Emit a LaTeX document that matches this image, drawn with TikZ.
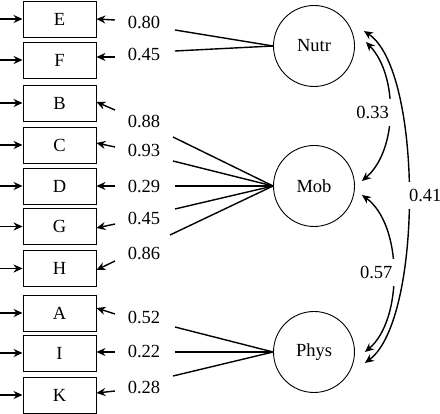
\documentclass[tikz,border=0pt]{standalone}
\usepackage{fontspec}
\setmainfont{Liberation Serif}
\newfontfamily\lserif{Liberation Serif}
\usetikzlibrary{arrows.meta,calc}
\begin{document}
\begin{tikzpicture}[x=1pt,y=-1pt,
  txt/.style={font=\lserif\fontsize{18.5}{20}\selectfont},
  obs/.style={txt,draw,line width=0.9pt,minimum width=73pt,minimum height=36pt,inner sep=0pt},
  lat/.style={txt,draw,circle,line width=0.9pt,minimum size=81pt,inner sep=0pt},
  lbl/.style={txt,inner sep=1pt},
  arr/.style={-{Stealth[length=9pt,width=8pt]},line width=1.4pt},
  load/.style={line width=1.4pt},
  cov/.style={{Stealth[length=9pt,width=8pt]}-{Stealth[length=9pt,width=8pt]},line width=1.4pt},
  cl/.style={txt,fill=white,inner xsep=4pt,inner ysep=7pt}
]
\useasboundingbox (0,0) rectangle (440,414);
% observed boxes
\foreach \n/\y in {E/19,F/60,B/103,C/145,D/186,G/226.5,H/268.5,A/313,I/353,K/395}{
  \node[obs] (\n) at (59.5,\y) {\n};
  \coordinate (\n L) at (0,\y);
  \draw[arr] (\n L) -- (\n.west);
}
% error arrows on the right of boxes
\foreach \n/\s/\t in {E/20/0,F/57/3,B/110/1,C/147/2,D/186/0,G/224/-1.5,H/261/-1.5,A/314/5,I/352/1,K/391/2}{
  \coordinate (\n R) at (115,\s);
  \draw[arr] (\n R) -- ([yshift=\t pt]\n.east);
}
% latent variables
\node[lat] (Nutr) at (314,46) {Nutr};
\node[lat] (Mob) at (314,186) {Mob};
\node[lat] (Phys) at (314,352) {Phys};
% loading labels
\node[lbl] (l1) at (144,22) {0.80};
\node[lbl] (l2) at (144,54.5) {0.45};
\node[lbl] (l3) at (144,121) {0.88};
\node[lbl] (l4) at (144,150) {0.93};
\node[lbl] (l5) at (144,186.5) {0.29};
\node[lbl] (l6) at (144,218) {0.45};
\node[lbl] (l7) at (144,253) {0.86};
\node[lbl] (l8) at (144,317.5) {0.52};
\node[lbl] (l9) at (144,351) {0.22};
\node[lbl] (l10) at (144,387) {0.28};
% loading lines
\coordinate (s1) at (175,30);
\coordinate (s2) at (175,51);
\coordinate (s3) at (173,137);
\coordinate (s4) at (173,161);
\coordinate (s5) at (175,186);
\coordinate (s6) at (175,209);
\coordinate (s7) at (170,235);
\coordinate (s8) at (175,327);
\coordinate (s9) at (175,352);
\coordinate (s10) at (173,376);
\foreach \s in {s1,s2}{\draw[load] (\s) -- (Nutr.west);}
\foreach \s in {s3,s4,s5,s6,s7}{\draw[load] (\s) -- (Mob.west);}
\foreach \s in {s8,s9,s10}{\draw[load] (\s) -- (Phys.west);}
% covariance arrows
\coordinate (n1) at ([xshift=11pt,yshift=4pt]Nutr.east);
\coordinate (n2) at ([xshift=9pt,yshift=15pt]Nutr.east);
\coordinate (m1) at ([xshift=7pt,yshift=5pt]Mob.east);
\coordinate (m2) at ([xshift=7pt,yshift=-9pt]Mob.east);
\coordinate (p1) at ([xshift=10pt,yshift=0pt]Phys.east);
\coordinate (p2) at ([xshift=10pt,yshift=-11pt]Phys.east);
\draw[cov] (n1) .. controls (398,75) and (398,150) .. node[cl,anchor=east,xshift=4pt] (c1) {0.33} (m1);
\draw[cov] (m2) .. controls (403,225) and (403,320) .. node[cl,anchor=east,xshift=4pt] (c2) {0.57} (p1);
\draw[cov] (n2) .. controls (423,70) and (423,320) .. node[cl,anchor=west,xshift=-4pt] (c3) {0.41} (p2);
\end{tikzpicture}
\end{document}
